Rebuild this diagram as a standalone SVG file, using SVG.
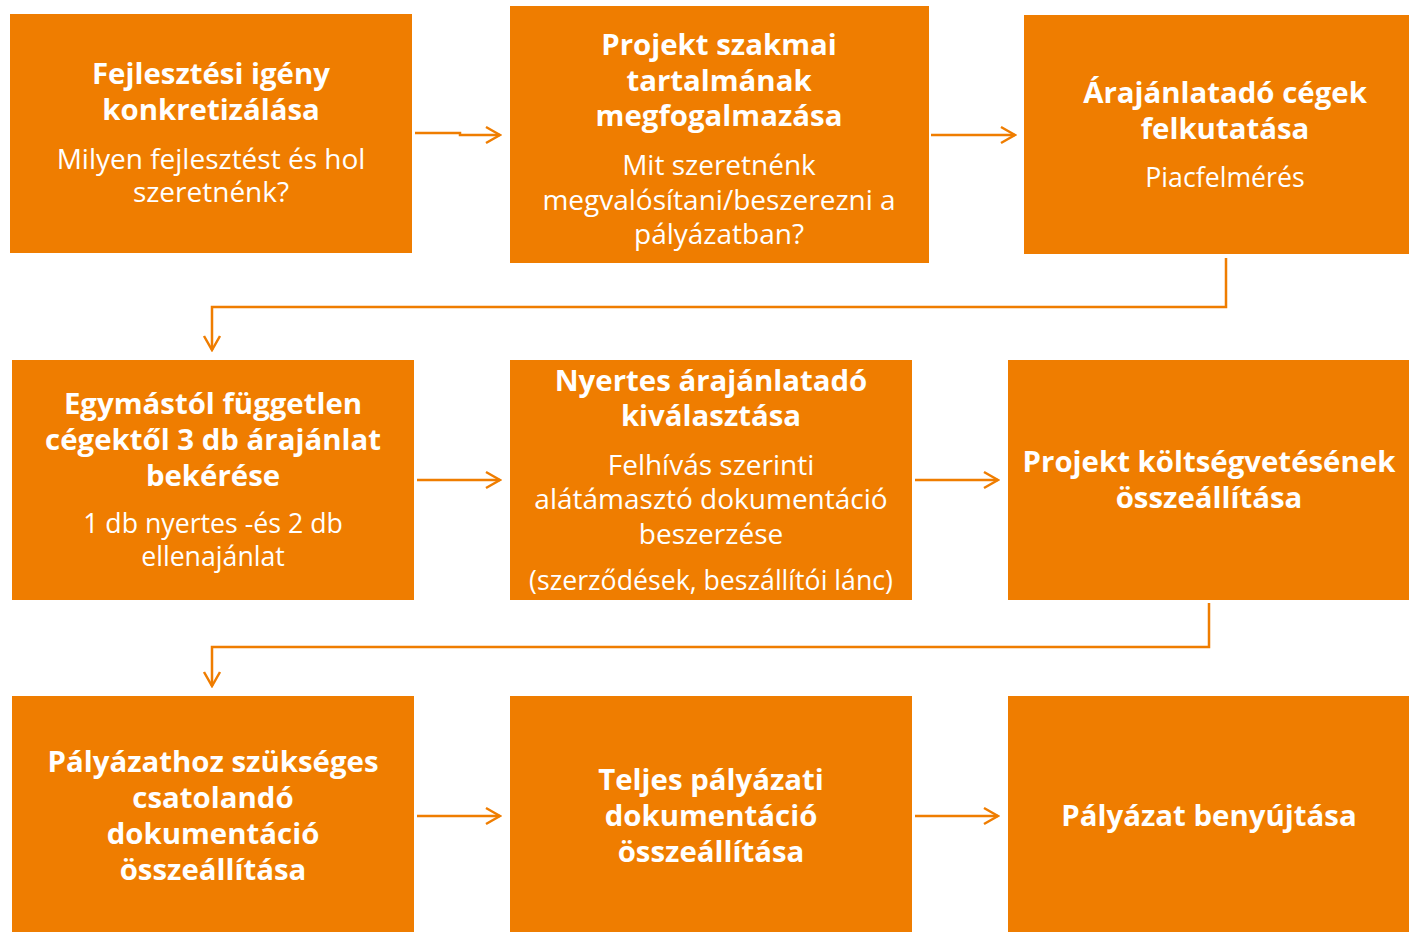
<svg xmlns="http://www.w3.org/2000/svg" width="1409" height="932" viewBox="0 0 1409 932">
<style>
.box{fill:#EF7D00}
.t{font-family:"Open Sans","Liberation Sans",sans-serif;font-weight:bold;font-size:29.4px;fill:#fff;text-anchor:middle}
.s{font-family:"Open Sans","Liberation Sans",sans-serif;font-size:28px;fill:#fff;text-anchor:middle}
.s2{font-family:"Open Sans","Liberation Sans",sans-serif;font-size:26.7px;fill:#fff;text-anchor:middle}
.c{fill:none;stroke:#EF7D00;stroke-width:2.5}
</style>
<defs>
<marker id="ah" viewBox="0 0 20 20" refX="18" refY="10" markerWidth="20" markerHeight="20" markerUnits="userSpaceOnUse" orient="auto">
<path d="M4,2 L18,10 L4,18" fill="none" stroke="#EF7D00" stroke-width="2.5"/>
</marker>
</defs>
<rect width="1409" height="932" fill="#fff"/>
<g id="n1"><rect class="box" x="10" y="14" width="402" height="239"/>
<text class="t" x="211" y="84">Fejlesztési igény</text><text class="t" x="211" y="120">konkretizálása</text>
<text class="s" x="211" y="169">Milyen fejlesztést és hol</text><text class="s" x="211" y="202">szeretnénk?</text></g>
<g id="n2"><rect class="box" x="510" y="6" width="419" height="257"/>
<text class="t" x="719" y="55">Projekt szakmai</text><text class="t" x="719" y="91">tartalmának</text><text class="t" x="719" y="126">megfogalmazása</text>
<text class="s" x="719" y="175">Mit szeretnénk</text><text class="s" x="719" y="210">megvalósítani/beszerezni a</text><text class="s" x="719" y="244">pályázatban?</text></g>
<g id="n3"><rect class="box" x="1024" y="15" width="385" height="239"/>
<text class="t" x="1225" y="103">Árajánlatadó cégek</text><text class="t" x="1225" y="139">felkutatása</text>
<text class="s2" x="1225" y="187">Piacfelmérés</text></g>
<g id="n4"><rect class="box" x="12" y="360" width="402" height="240"/>
<text class="t" x="213" y="414">Egymástól független</text><text class="t" x="213" y="450">cégektől 3 db árajánlat</text><text class="t" x="213" y="486">bekérése</text>
<text class="s2" x="213" y="533">1 db nyertes -és 2 db</text><text class="s2" x="213" y="566">ellenajánlat</text></g>
<g id="n5"><rect class="box" x="510" y="360" width="402" height="240"/>
<text class="t" x="711" y="391">Nyertes árajánlatadó</text><text class="t" x="711" y="426">kiválasztása</text>
<text class="s" x="711" y="475">Felhívás szerinti</text><text class="s" x="711" y="509">alátámasztó dokumentáció</text><text class="s" x="711" y="544">beszerzése</text>
<text class="s2" x="711" y="590">(szerződések, beszállítói lánc)</text></g>
<g id="n6"><rect class="box" x="1008" y="360" width="401" height="240"/>
<text class="t" x="1209" y="472">Projekt költségvetésének</text><text class="t" x="1209" y="508">összeállítása</text></g>
<g id="n7"><rect class="box" x="12" y="696" width="402" height="236"/>
<text class="t" x="213" y="772">Pályázathoz szükséges</text><text class="t" x="213" y="808">csatolandó</text><text class="t" x="213" y="844">dokumentáció</text><text class="t" x="213" y="880">összeállítása</text></g>
<g id="n8"><rect class="box" x="510" y="696" width="402" height="236"/>
<text class="t" x="711" y="790">Teljes pályázati</text><text class="t" x="711" y="826">dokumentáció</text><text class="t" x="711" y="862">összeállítása</text></g>
<g id="n9"><rect class="box" x="1008" y="696" width="401" height="236"/>
<text class="t" x="1209" y="826">Pályázat benyújtása</text></g>
<g id="connectors">
<path class="c" d="M415,133 L460,133 L460,135 L500,135" marker-end="url(#ah)"/>
<path class="c" d="M931,135 L1015,135" marker-end="url(#ah)"/>
<path class="c" d="M1226,258 L1226,307 L212,307 L212,350" marker-end="url(#ah)"/>
<path class="c" d="M417,480 L500,480" marker-end="url(#ah)"/>
<path class="c" d="M915,480 L998,480" marker-end="url(#ah)"/>
<path class="c" d="M1209,603 L1209,647 L212,647 L212,686" marker-end="url(#ah)"/>
<path class="c" d="M417,816 L500,816" marker-end="url(#ah)"/>
<path class="c" d="M915,816 L998,816" marker-end="url(#ah)"/>
</g>
</svg>
